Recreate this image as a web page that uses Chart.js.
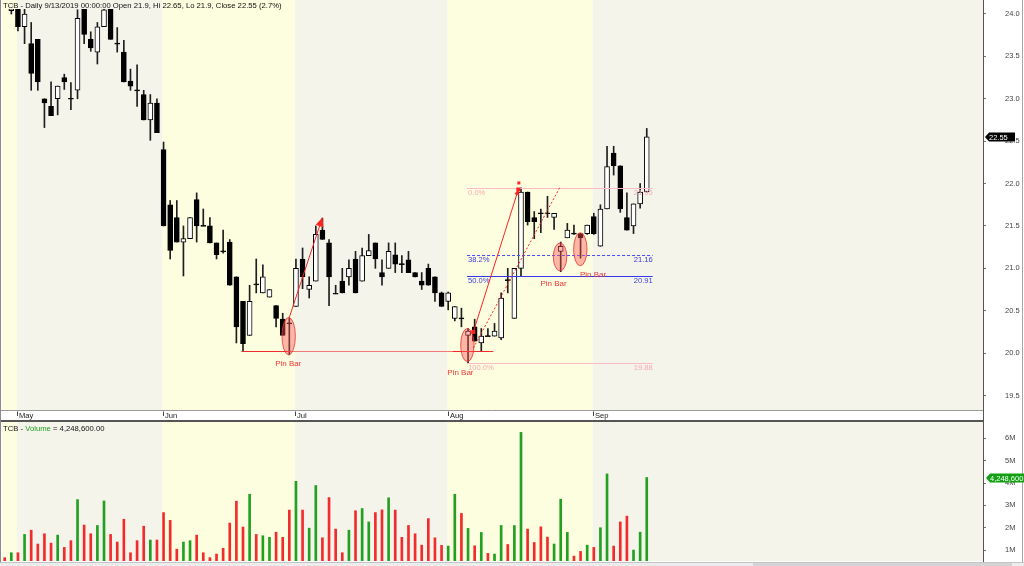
<!DOCTYPE html>
<html>
<head>
<meta charset="utf-8">
<script src="https://cdn.jsdelivr.net/npm/chart.js@4.4.1/dist/chart.umd.min.js"></script>
<style>
  html, body { margin: 0; padding: 0; background: #fff; }
  #wrap { position: relative; width: 1024px; height: 566px; overflow: hidden; }
  canvas { position: absolute; left: 0; }
  #price { top: 0; }
  #vol { top: 421px; }
</style>
</head>
<body>
<div id="wrap">
  <canvas id="price" width="1024" height="421"></canvas>
  <canvas id="vol" width="1024" height="145"></canvas>
</div>
<script>

const dates = [
  '2019-04-25','2019-04-26',
  '2019-05-02','2019-05-03','2019-05-06','2019-05-07','2019-05-08','2019-05-09','2019-05-10','2019-05-13','2019-05-14','2019-05-15','2019-05-16',
  '2019-05-17','2019-05-20','2019-05-21','2019-05-22','2019-05-23','2019-05-24','2019-05-27','2019-05-28','2019-05-29','2019-05-30','2019-05-31',
  '2019-06-03','2019-06-04','2019-06-05','2019-06-06','2019-06-07','2019-06-10','2019-06-11','2019-06-12','2019-06-13','2019-06-14',
  '2019-06-17','2019-06-18','2019-06-19','2019-06-20','2019-06-21','2019-06-24','2019-06-25','2019-06-26','2019-06-27','2019-06-28',
  '2019-07-01','2019-07-02','2019-07-03','2019-07-04','2019-07-05','2019-07-08','2019-07-09','2019-07-10','2019-07-11','2019-07-12','2019-07-15','2019-07-16',
  '2019-07-17','2019-07-18','2019-07-19','2019-07-22','2019-07-23','2019-07-24','2019-07-25','2019-07-26','2019-07-29','2019-07-30','2019-07-31',
  '2019-08-01','2019-08-02','2019-08-05','2019-08-06','2019-08-07','2019-08-08','2019-08-09','2019-08-12','2019-08-13','2019-08-14','2019-08-15',
  '2019-08-16','2019-08-19','2019-08-20','2019-08-21','2019-08-22','2019-08-23','2019-08-26','2019-08-27','2019-08-28','2019-08-29','2019-08-30',
  '2019-09-03','2019-09-04','2019-09-05','2019-09-06','2019-09-09','2019-09-10','2019-09-11','2019-09-12','2019-09-13'
];

const opens = [
  24.40, 24.04, 24.30, 23.85, 23.65, 23.70, 23.00, 22.91, 23.00, 23.25,
  23.00, 23.10, 24.10, 23.70, 23.55, 23.85, 24.10, 23.65, 23.55, 23.21,
  23.10, 23.05, 22.75, 22.95, 22.40, 21.75, 21.60, 21.31, 21.35, 21.81,
  21.50, 21.50, 21.30, 21.20, 21.31, 20.90, 20.61, 20.21, 20.81, 20.71,
  20.66, 20.56, 20.40, 20.35, 20.55, 21.11, 20.75, 20.85, 21.45, 21.30,
  20.70, 20.85, 20.90, 21.11, 20.85, 21.15, 21.30, 20.95, 21.00, 21.16,
  21.05, 21.10, 20.95, 20.85, 21.00, 20.90, 20.71, 20.61, 20.41, 20.41,
  20.21, 20.31, 20.12, 20.20, 20.20, 20.18, 20.86, 20.41, 21.00, 21.90,
  21.60, 21.65, 21.65, 21.60, 21.20, 21.36, 21.41, 21.41, 21.41, 21.61,
  21.26, 21.70, 22.36, 22.21, 21.60, 21.50, 21.76, 21.90
];
const highs = [
  24.50, 24.07, 24.40, 24.10, 23.90, 23.70, 23.00, 23.20, 23.15, 23.29,
  23.19, 24.05, 24.20, 23.79, 23.90, 24.20, 24.20, 23.84, 23.69, 23.35,
  23.40, 23.10, 23.05, 23.00, 22.49, 21.80, 21.80, 21.50, 21.60, 21.89,
  21.70, 21.60, 21.30, 21.45, 21.34, 20.90, 20.61, 20.80, 21.11, 21.04,
  20.75, 20.56, 20.47, 20.41, 21.11, 21.24, 20.90, 21.50, 21.59, 21.34,
  20.80, 21.00, 21.10, 21.20, 21.24, 21.40, 21.30, 21.10, 21.30, 21.30,
  21.15, 21.20, 20.95, 20.95, 21.05, 20.90, 20.72, 20.72, 20.55, 20.53,
  20.29, 20.40, 20.29, 20.29, 20.35, 20.71, 21.00, 21.00, 21.95, 21.90,
  21.67, 21.70, 21.85, 21.65, 21.31, 21.53, 21.51, 21.41, 21.51, 21.65,
  21.75, 22.44, 22.44, 22.21, 21.89, 21.76, 22.00, 22.65
];
const lows = [
  24.25, 24.00, 23.80, 23.65, 23.10, 23.10, 22.66, 22.80, 22.81, 23.11,
  22.87, 23.00, 23.65, 23.56, 23.41, 23.85, 23.70, 23.55, 23.20, 23.10,
  22.91, 22.75, 22.51, 22.60, 21.50, 21.11, 21.31, 20.91, 21.35, 21.31,
  21.50, 21.30, 21.11, 21.18, 20.80, 20.12, 20.02, 20.21, 20.71, 20.71,
  20.66, 20.31, 20.21, 19.98, 20.55, 20.76, 20.65, 20.85, 21.34, 20.56,
  20.70, 20.71, 20.80, 20.71, 20.85, 21.15, 21.00, 20.80, 21.00, 20.95,
  20.95, 20.95, 20.90, 20.75, 20.80, 20.61, 20.55, 20.51, 20.38, 20.31,
  19.88, 20.14, 20.02, 20.20, 20.20, 20.16, 20.71, 20.41, 20.91, 21.51,
  21.35, 21.42, 21.60, 21.46, 20.96, 21.36, 21.40, 21.12, 21.40, 21.40,
  21.26, 21.70, 22.10, 21.66, 21.45, 21.41, 21.71, 21.90
];
const closes = [
  24.30, 24.06, 23.85, 24.00, 23.30, 23.20, 22.95, 22.80, 23.15, 23.20,
  23.00, 23.95, 23.76, 23.60, 23.85, 24.05, 23.70, 23.65, 23.20, 23.15,
  23.10, 22.75, 22.95, 22.60, 21.50, 21.21, 21.31, 21.35, 21.60, 21.50,
  21.50, 21.30, 21.16, 21.20, 20.80, 20.31, 20.11, 20.61, 20.81, 20.90,
  20.75, 20.41, 20.21, 20.35, 21.00, 20.90, 20.80, 21.40, 21.34, 20.90,
  20.70, 20.71, 21.00, 20.71, 21.15, 21.21, 21.11, 20.90, 21.20, 21.05,
  21.05, 20.95, 20.90, 20.80, 20.80, 20.71, 20.55, 20.71, 20.55, 20.41,
  20.26, 20.14, 20.20, 20.20, 20.26, 20.65, 20.86, 21.00, 21.90, 21.55,
  21.55, 21.65, 21.65, 21.65, 21.26, 21.45, 21.41, 21.36, 21.51, 21.41,
  21.70, 22.20, 22.21, 21.70, 21.45, 21.76, 21.90, 22.55
];
// volume en millions de titres
const volumesM = [
  0.66, 0.88, 0.88, 1.70, 1.89, 1.27, 1.73, 1.31, 1.67, 1.12,
  1.42, 3.26, 2.12, 1.73, 2.10, 3.20, 1.70, 1.36, 2.38, 0.88,
  1.42, 2.07, 1.45, 1.45, 2.68, 2.33, 1.04, 1.36, 1.42, 1.67,
  0.88, 0.66, 0.82, 1.08, 2.21, 3.19, 2.03, 3.50, 1.70, 1.64,
  1.57, 1.80, 1.57, 2.79, 4.08, 2.79, 1.98, 3.89, 1.55, 3.35,
  1.94, 0.88, 1.89, 2.76, 2.86, 2.26, 2.68, 2.80, 3.34, 2.79,
  1.57, 2.10, 1.73, 1.22, 2.41, 1.55, 1.21, 1.18, 3.50, 2.64,
  1.97, 1.19, 1.79, 0.85, 0.82, 2.10, 1.25, 2.10, 6.27, 1.94,
  1.34, 2.04, 1.58, 1.27, 3.28, 1.79, 0.73, 0.94, 1.22, 1.12,
  2.00, 4.41, 1.18, 2.26, 2.52, 1.00, 1.80, 4.2486
];

const priceTicks = [19.5, 20.0, 20.5, 21.0, 21.5, 22.0, 22.5, 23.0, 23.5, 24.0];
const volTicks = [1, 2, 3, 4, 5, 6];
const monthNames = ['Jan','Feb','Mar','Apr','May','Jun','Jul','Aug','Sep','Oct','Nov','Dec'];

// Retracement de Fibonacci (plus bas / plus haut d'août)
const fibLow = 19.88;
const fibHigh = 21.95;
const fibLevels = [0, 38.2, 50, 100];

// --- 2. ANNOTATIONS (position en index de bougie / prix) ---
const FONT = "'Liberation Sans', Arial, sans-serif";
Chart.defaults.font.family = FONT;

const xMin = -0.41, xMax = 147.8;
const fibSpan = [69.85, 97.9];
const pinBarNotes = [
  { i: 42.9, lo: 19.98, hi: 20.42, lx: -0.4, ly: 9.3 },
  { i: 69.9, lo: 19.90, hi: 20.29, lx: -7, ly: 11.6 },
  { i: 83.9, lo: 20.97, hi: 21.30, lx: -6.5, ly: 13.3 },
  { i: 86.96, lo: 21.03, hi: 21.42, lx: 12.7, ly: 8.7 }
];
const supportLine = { price: 20.03, from: 35.8, to: 73.8, red: [[35.8, 43.2], [67.7, 73.8]] };
const arrowLines = [
  { a: [42.95, 20.41], b: [48.0, 21.60], head: 10 },
  { a: [70.8, 20.25], b: [77.6, 21.93], head: 6 }
];
const dottedLine = { a: [70.8, 20.06], b: [83.9, 21.96] };

const idx = dates.map((d, i) => i);
const monthStarts = idx.filter(i => i > 0 && dates[i].slice(5, 7) !== dates[i - 1].slice(5, 7));
const monthOf = i => monthNames[+dates[i].slice(5, 7) - 1];

const wickData = idx.map(i => ({ x: i, y: [lows[i], highs[i]] }));
const bodyData = idx.map(i => {
  const o = opens[i], c = closes[i];
  if (Math.abs(o - c) < 0.012) { const m = (o + c) / 2; return { x: i, y: [m - 0.006, m + 0.006] }; }
  return { x: i, y: [o, c] };
});
const bodyFill = idx.map(i => closes[i] > opens[i] ? '#ffffff' : '#000000');
const volColors = idx.map(i => closes[i] > opens[i] ? '#22a022' : '#f22c2c');

// --- 3. FONCTIONS DE DESSIN ---
function drawBands(chart) {
  const { ctx, chartArea: a, scales: { x } } = chart;
  const cuts = [xMin].concat(monthStarts.map(i => i - 0.15), [xMax]);
  ctx.save();
  for (let k = 0; k < cuts.length - 1; k++) {
    const x0 = Math.max(a.left, x.getPixelForValue(cuts[k]));
    const x1 = Math.min(a.right, x.getPixelForValue(cuts[k + 1]));
    ctx.fillStyle = k % 2 === 0 ? '#fdfddf' : '#f4f4eb';
    ctx.fillRect(x0, a.top, x1 - x0, a.bottom - a.top);
  }
  ctx.restore();
}

function seg(ctx, x0, y0, x1, y1) {
  ctx.beginPath(); ctx.moveTo(x0, y0); ctx.lineTo(x1, y1); ctx.stroke();
}

function arrow(ctx, x0, y0, x1, y1, head) {
  seg(ctx, x0, y0, x1, y1);
  const ang = Math.atan2(y1 - y0, x1 - x0);
  ctx.beginPath();
  ctx.moveTo(x1, y1);
  ctx.lineTo(x1 - head * Math.cos(ang - 0.42), y1 - head * Math.sin(ang - 0.42));
  ctx.lineTo(x1 - head * Math.cos(ang + 0.42), y1 - head * Math.sin(ang + 0.42));
  ctx.closePath();
  ctx.fill();
}

function marker(ctx, tipX, y, w, h, color, text, textX) {
  ctx.fillStyle = color;
  ctx.beginPath();
  ctx.moveTo(tipX, y);
  ctx.lineTo(tipX + 4, y - h / 2);
  ctx.lineTo(tipX + w, y - h / 2);
  ctx.lineTo(tipX + w, y + h / 2);
  ctx.lineTo(tipX + 4, y + h / 2);
  ctx.closePath();
  ctx.fill();
  ctx.fillStyle = '#fff';
  ctx.font = '7.5px ' + FONT;
  ctx.textAlign = 'left';
  ctx.textBaseline = 'middle';
  ctx.fillText(text, textX, y + 0.5);
}

const pricePlugin = {
  id: 'pricePlugin',
  beforeDraw(chart) { drawBands(chart); },
  afterDatasetsDraw(chart) {
    const { ctx, scales: { x, y } } = chart;
    const X = v => x.getPixelForValue(v), Y = v => y.getPixelForValue(v);
    ctx.save();
    ctx.lineWidth = 1;

    // ligne de support
    const ys = Math.round(Y(supportLine.price)) + 0.5;
    ctx.strokeStyle = '#f37878';
    seg(ctx, X(supportLine.from), ys, X(supportLine.to), ys);
    ctx.strokeStyle = '#ee2a2a';
    supportLine.red.forEach(r => seg(ctx, X(r[0]), ys, X(r[1]), ys));

    // niveaux de Fibonacci
    fibLevels.forEach(p => {
      const v = fibHigh - (fibHigh - fibLow) * p / 100;
      const yy = Math.round(Y(v)) + 0.5;
      const edge = p === 0 || p === 100;
      ctx.strokeStyle = edge ? '#f8bcc6' : (p === 38.2 ? '#4a4aff' : '#3535ea');
      ctx.setLineDash(p === 38.2 ? [3, 2] : []);
      seg(ctx, X(fibSpan[0]), yy, X(fibSpan[1]), yy);
      ctx.setLineDash([]);
      ctx.font = '7.6px ' + FONT;
      ctx.textBaseline = 'middle';
      ctx.fillStyle = edge ? '#f5aab6' : '#3b3bdc';
      ctx.textAlign = 'left';
      ctx.fillText(p.toFixed(1) + '%', X(fibSpan[0]) + 1, yy + 4.5);
      ctx.textAlign = 'right';
      ctx.fillText(v.toFixed(2), X(fibSpan[1]), yy + 4.5);
    });

    // pin bars
    pinBarNotes.forEach(n => {
      const cx = X(n.i), top = Y(n.hi), bot = Y(n.lo);
      ctx.beginPath();
      ctx.ellipse(cx, (top + bot) / 2, 6.7, (bot - top) / 2, 0, 0, Math.PI * 2);
      ctx.fillStyle = 'rgba(255,85,85,0.42)';
      ctx.fill();
      ctx.strokeStyle = 'rgba(235,50,50,0.8)';
      ctx.stroke();
      ctx.fillStyle = '#ee3838';
      ctx.font = '8px ' + FONT;
      ctx.textAlign = 'center';
      ctx.textBaseline = 'middle';
      ctx.fillText('Pin Bar', cx + n.lx, bot + n.ly);
    });

    // flèches de tendance
    ctx.strokeStyle = '#ff2424';
    ctx.fillStyle = '#ff2424';
    arrowLines.forEach(l => arrow(ctx, X(l.a[0]), Y(l.a[1]), X(l.b[0]), Y(l.b[1]), l.head));
    const a2 = arrowLines[1];
    ctx.fillRect(X(a2.a[0]) - 2, Y(a2.a[1]) - 2, 4, 4);
    ctx.fillRect(X(a2.b[0]) - 2, Y(a2.b[1]) - 2, 4, 4);
    ctx.fillRect(X(a2.b[0]) - 1, Y(a2.b[1]) - 8, 3, 3);
    ctx.setLineDash([2, 2]);
    seg(ctx, X(dottedLine.a[0]), Y(dottedLine.a[1]), X(dottedLine.b[0]), Y(dottedLine.b[1]));
    ctx.setLineDash([]);
    ctx.restore();
  },
  afterDraw(chart) {
    const { ctx, chartArea: a, scales: { x, y } } = chart;
    ctx.save();
    // rangée des dates
    ctx.fillStyle = '#fff';
    ctx.fillRect(0, a.bottom, a.right, 11);
    ctx.strokeStyle = '#9a9a9a';
    seg(ctx, 0, a.bottom + 0.5, a.right, a.bottom + 0.5);
    ctx.strokeStyle = '#555';
    seg(ctx, 0, a.bottom + 10.5, a.right + 1, a.bottom + 10.5);
    seg(ctx, a.right + 0.5, a.bottom, a.right + 0.5, a.bottom + 11);
    ctx.font = '7.6px ' + FONT;
    ctx.fillStyle = '#222';
    ctx.textAlign = 'left';
    ctx.textBaseline = 'alphabetic';
    monthStarts.forEach(i => {
      const px = Math.round(x.getPixelForValue(i - 0.1)) + 0.5;
      ctx.strokeStyle = '#444';
      seg(ctx, px, a.bottom + 1.5, px, a.bottom + 6);
      ctx.fillText(monthOf(i), px + 1.5, a.bottom + 8);
    });
    // bordures
    ctx.strokeStyle = '#8a8a8a';
    seg(ctx, 0.5, 0, 0.5, 421);
    ctx.strokeStyle = '#a8a8a8';
    seg(ctx, 1022.5, 0, 1022.5, 421);
    // titre
    ctx.font = '7.7px ' + FONT;
    ctx.fillStyle = '#111';
    ctx.fillText('TCB - Daily 9/13/2019 00:00:00 Open 21.9, Hi 22.65, Lo 21.9, Close 22.55 (2.7%)', 3, 7.5);
    // étiquette du dernier cours
    const last = closes[closes.length - 1];
    marker(ctx, a.right + 2, Math.round(y.getPixelForValue(last)), 30, 9, '#000', last.toFixed(2), a.right + 6);
    ctx.restore();
  }
};

const volPlugin = {
  id: 'volPlugin',
  beforeDraw(chart) { drawBands(chart); },
  afterDraw(chart) {
    const { ctx, chartArea: a, scales: { y } } = chart;
    ctx.save();
    ctx.strokeStyle = '#555';
    seg(ctx, 0, 0.5, a.right + 1, 0.5);
    ctx.strokeStyle = '#8a8a8a';
    seg(ctx, 0.5, 0, 0.5, 145);
    ctx.strokeStyle = '#a8a8a8';
    seg(ctx, 1022.5, 0, 1022.5, 145);
    // titre du volume
    ctx.font = '7.7px ' + FONT;
    ctx.textBaseline = 'alphabetic';
    ctx.textAlign = 'left';
    let tx = 3;
    [['TCB - ', '#111'], ['Volume', '#22a022'], [' = 4,248,600.00', '#111']].forEach(p => {
      ctx.fillStyle = p[1];
      ctx.fillText(p[0], tx, 9.8);
      tx += ctx.measureText(p[0]).width;
    });
    // étiquette du dernier volume
    const lastV = volumesM[volumesM.length - 1];
    marker(ctx, a.right + 3, Math.round(y.getPixelForValue(lastV)), 45, 9, '#12a012',
      Math.round(lastV * 1e6).toLocaleString('en-US'), a.right + 7);
    // barre d'onglets en bas
    ctx.fillStyle = '#ececec';
    ctx.fillRect(0, 141, 1024, 4);
    ctx.fillStyle = '#d4d4d4';
    ctx.fillRect(753, 142, 259, 3);
    ctx.strokeStyle = '#c4c4c4';
    seg(ctx, 0, 141.5, 1024, 141.5);
    ctx.restore();
  }
};

// --- 4. GRAPHIQUES ---
function rightAxis(min, max, ticks, fmt) {
  return {
    position: 'right', min: min, max: max,
    afterFit: s => { s.width = 41; s.paddingTop = 0; s.paddingBottom = 0; },
    afterBuildTicks: s => { s.ticks = ticks.map(v => ({ value: v })); },
    grid: { drawOnChartArea: false, tickLength: 3, color: '#777' },
    border: { color: '#555' },
    ticks: { callback: fmt, color: '#444', font: { size: 7.5 }, padding: 19 }
  };
}

// les bougies s'arrêtent sous la ligne de titre (9 px)
const titleClip = { left: false, top: -9, right: false, bottom: false };

new Chart(document.getElementById('price'), {
  type: 'bar',
  data: {
    datasets: [
      { label: 'Corps', data: bodyData, backgroundColor: bodyFill, borderColor: '#000', borderWidth: 1,
        borderSkipped: false, barThickness: 5, grouped: false, order: 0, clip: titleClip },
      { label: 'Mèches', data: wickData, backgroundColor: '#1e1e1e', borderWidth: 0,
        barThickness: 1, grouped: false, order: 1, clip: titleClip }
    ]
  },
  options: {
    responsive: false,
    animation: false,
    layout: { autoPadding: false, padding: { left: 2, right: 0, top: 0, bottom: 11 } },
    plugins: { legend: { display: false }, tooltip: { enabled: false } },
    scales: {
      x: { type: 'linear', min: xMin, max: xMax, display: false, offset: false },
      y: rightAxis(19.329, 24.165, priceTicks, v => v.toFixed(1))
    }
  },
  plugins: [pricePlugin]
});

new Chart(document.getElementById('vol'), {
  type: 'bar',
  data: {
    datasets: [
      { label: 'Volume', data: idx.map(i => ({ x: i, y: volumesM[i] })), backgroundColor: volColors,
        borderWidth: 0, barThickness: 2, grouped: false }
    ]
  },
  options: {
    responsive: false,
    animation: false,
    layout: { autoPadding: false, padding: { left: 2, right: 0, top: 0, bottom: 5 } },
    plugins: { legend: { display: false }, tooltip: { enabled: false } },
    scales: {
      x: { type: 'linear', min: xMin, max: xMax, display: false, offset: false },
      y: rightAxis(0.51, 6.78, volTicks, v => v + 'M')
    }
  },
  plugins: [volPlugin]
});
</script>
</body>
</html>
